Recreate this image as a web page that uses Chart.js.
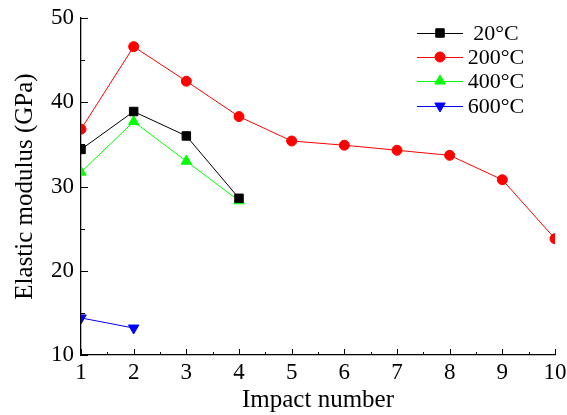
<!DOCTYPE html>
<html>
<head>
<meta charset="utf-8">
<script src="https://cdn.jsdelivr.net/npm/chart.js@4"></script>
<style>
  html, body { margin: 0; padding: 0; background: #fff; }
  #wrap { width: 567px; height: 415px; }
</style>
</head>
<body>
<div id="wrap"><canvas id="myChart" width="567" height="415"></canvas></div>
<script>
// impact numbers (x) and modulus values (GPa) per temperature
const impacts = [1, 2, 3, 4, 5, 6, 7, 8, 9, 10];
const labels = ['20\u00b0C', '200\u00b0C', '400\u00b0C', '600\u00b0C'];
const e20 = [34.4, 38.9, 36.0, 28.6];
const e200 = [36.8, 46.6, 42.5, 38.3, 35.4, 34.9, 34.3, 33.7, 30.8, 23.8];
const e400 = [31.7, 37.7, 33.0, 28.3];
const e600 = [14.4, 13.2];

const serif = "'Liberation Serif', 'Times New Roman', serif";

function pts(vals) {
    return vals.map((v, i) => ({ x: impacts[i], y: v }));
}

// inward tick marks like the original plot
const innerTicks = {
    id: 'innerTicks',
    afterDraw(chart) {
        const { ctx, chartArea, scales } = chart;
        ctx.save();
        ctx.strokeStyle = '#000';
        ctx.lineWidth = 1;
        for (let v = 10; v <= 50; v += 5) {
            const y = Math.round(scales.y.getPixelForValue(v)) + 0.5;
            const len = v % 10 === 0 ? 7 : 4;
            ctx.beginPath();
            ctx.moveTo(chartArea.left, y);
            ctx.lineTo(chartArea.left + len, y);
            ctx.stroke();
        }
        for (let v = 1; v <= 10; v += 0.5) {
            const x = Math.round(scales.x.getPixelForValue(v)) + 0.5;
            const len = Number.isInteger(v) ? 6 : 3;
            ctx.beginPath();
            ctx.moveTo(x, chartArea.bottom);
            ctx.lineTo(x, chartArea.bottom - len);
            ctx.stroke();
        }
        ctx.restore();
    }
};

// legend box in the top right corner
const cornerLegend = {
    id: 'cornerLegend',
    afterDraw(chart) {
        const ctx = chart.ctx;
        const rows = [33, 57, 81, 106];
        ctx.save();
        chart.data.datasets.forEach((ds, i) => {
            const y = rows[i];
            ctx.strokeStyle = ds.borderColor;
            ctx.lineWidth = 1;
            ctx.beginPath();
            ctx.moveTo(417, y + 0.5);
            ctx.lineTo(463, y + 0.5);
            ctx.stroke();
            ctx.fillStyle = ds.pointBackgroundColor;
            ctx.strokeStyle = ds.pointBackgroundColor;
            Chart.helpers.drawPoint(ctx, {
                pointStyle: ds.pointStyle,
                radius: ds.pointRadius,
                rotation: ds.pointRotation || 0,
                borderWidth: 1
            }, 440, y);
            ctx.fillStyle = '#000';
            ctx.font = '22px ' + serif;
            ctx.textAlign = 'center';
            ctx.textBaseline = 'middle';
            ctx.fillText(ds.label, 496, y + 1);
        });
        ctx.restore();
    }
};

const ctx = document.getElementById('myChart').getContext('2d');

const myChart = new Chart(ctx, {
    type: 'line',
    data: {
        datasets: [
            {
                label: labels[0], data: pts(e20),
                borderColor: '#000000', pointBackgroundColor: '#000000', pointBorderColor: '#000000',
                pointStyle: 'rect', pointRadius: 6
            },
            {
                label: labels[1], data: pts(e200),
                borderColor: '#ff0000', pointBackgroundColor: '#ff0000', pointBorderColor: '#ff0000',
                pointStyle: 'circle', pointRadius: 5
            },
            {
                label: labels[2], data: pts(e400),
                borderColor: '#00ff00', pointBackgroundColor: '#00ff00', pointBorderColor: '#00ff00',
                pointStyle: 'triangle', pointRadius: 6
            },
            {
                label: labels[3], data: pts(e600),
                borderColor: '#0000ff', pointBackgroundColor: '#0000ff', pointBorderColor: '#0000ff',
                pointStyle: 'triangle', pointRadius: 6, pointRotation: 180
            }
        ]
    },
    options: {
        responsive: false,
        animation: false,
        elements: {
            line: { borderWidth: 1, tension: 0 },
            point: { borderWidth: 1 }
        },
        layout: { padding: { top: 18, right: 12, left: 0, bottom: 0 } },
        plugins: {
            legend: { display: false },
            tooltip: { enabled: false }
        },
        scales: {
            x: {
                type: 'linear',
                min: 1,
                max: 10,
                afterFit: s => { s.height = 60; s.paddingLeft = 0; s.paddingRight = 0; },
                ticks: {
                    stepSize: 1,
                    color: '#000',
                    padding: 4,
                    maxRotation: 0,
                    font: { family: serif, size: 23 }
                },
                grid: { display: false, drawTicks: false },
                border: { display: true, color: '#000', width: 1.3 },
                title: {
                    display: true,
                    text: 'Impact number',
                    color: '#000',
                    font: { family: serif, size: 25 },
                    padding: { top: 0, bottom: 0 }
                }
            },
            y: {
                min: 10,
                max: 50,
                afterFit: s => { s.width = 81; s.paddingTop = 0; s.paddingBottom = 0; },
                ticks: {
                    stepSize: 10,
                    color: '#000',
                    padding: 7,
                    font: { family: serif, size: 23 }
                },
                grid: { display: false, drawTicks: false },
                border: { display: true, color: '#000', width: 1.3 },
                title: {
                    display: true,
                    text: 'Elastic modulus (GPa)',
                    color: '#000',
                    font: { family: serif, size: 25 },
                    padding: { top: 10, bottom: 0 }
                }
            }
        }
    },
    plugins: [innerTicks, cornerLegend]
});
</script>
</body>
</html>
